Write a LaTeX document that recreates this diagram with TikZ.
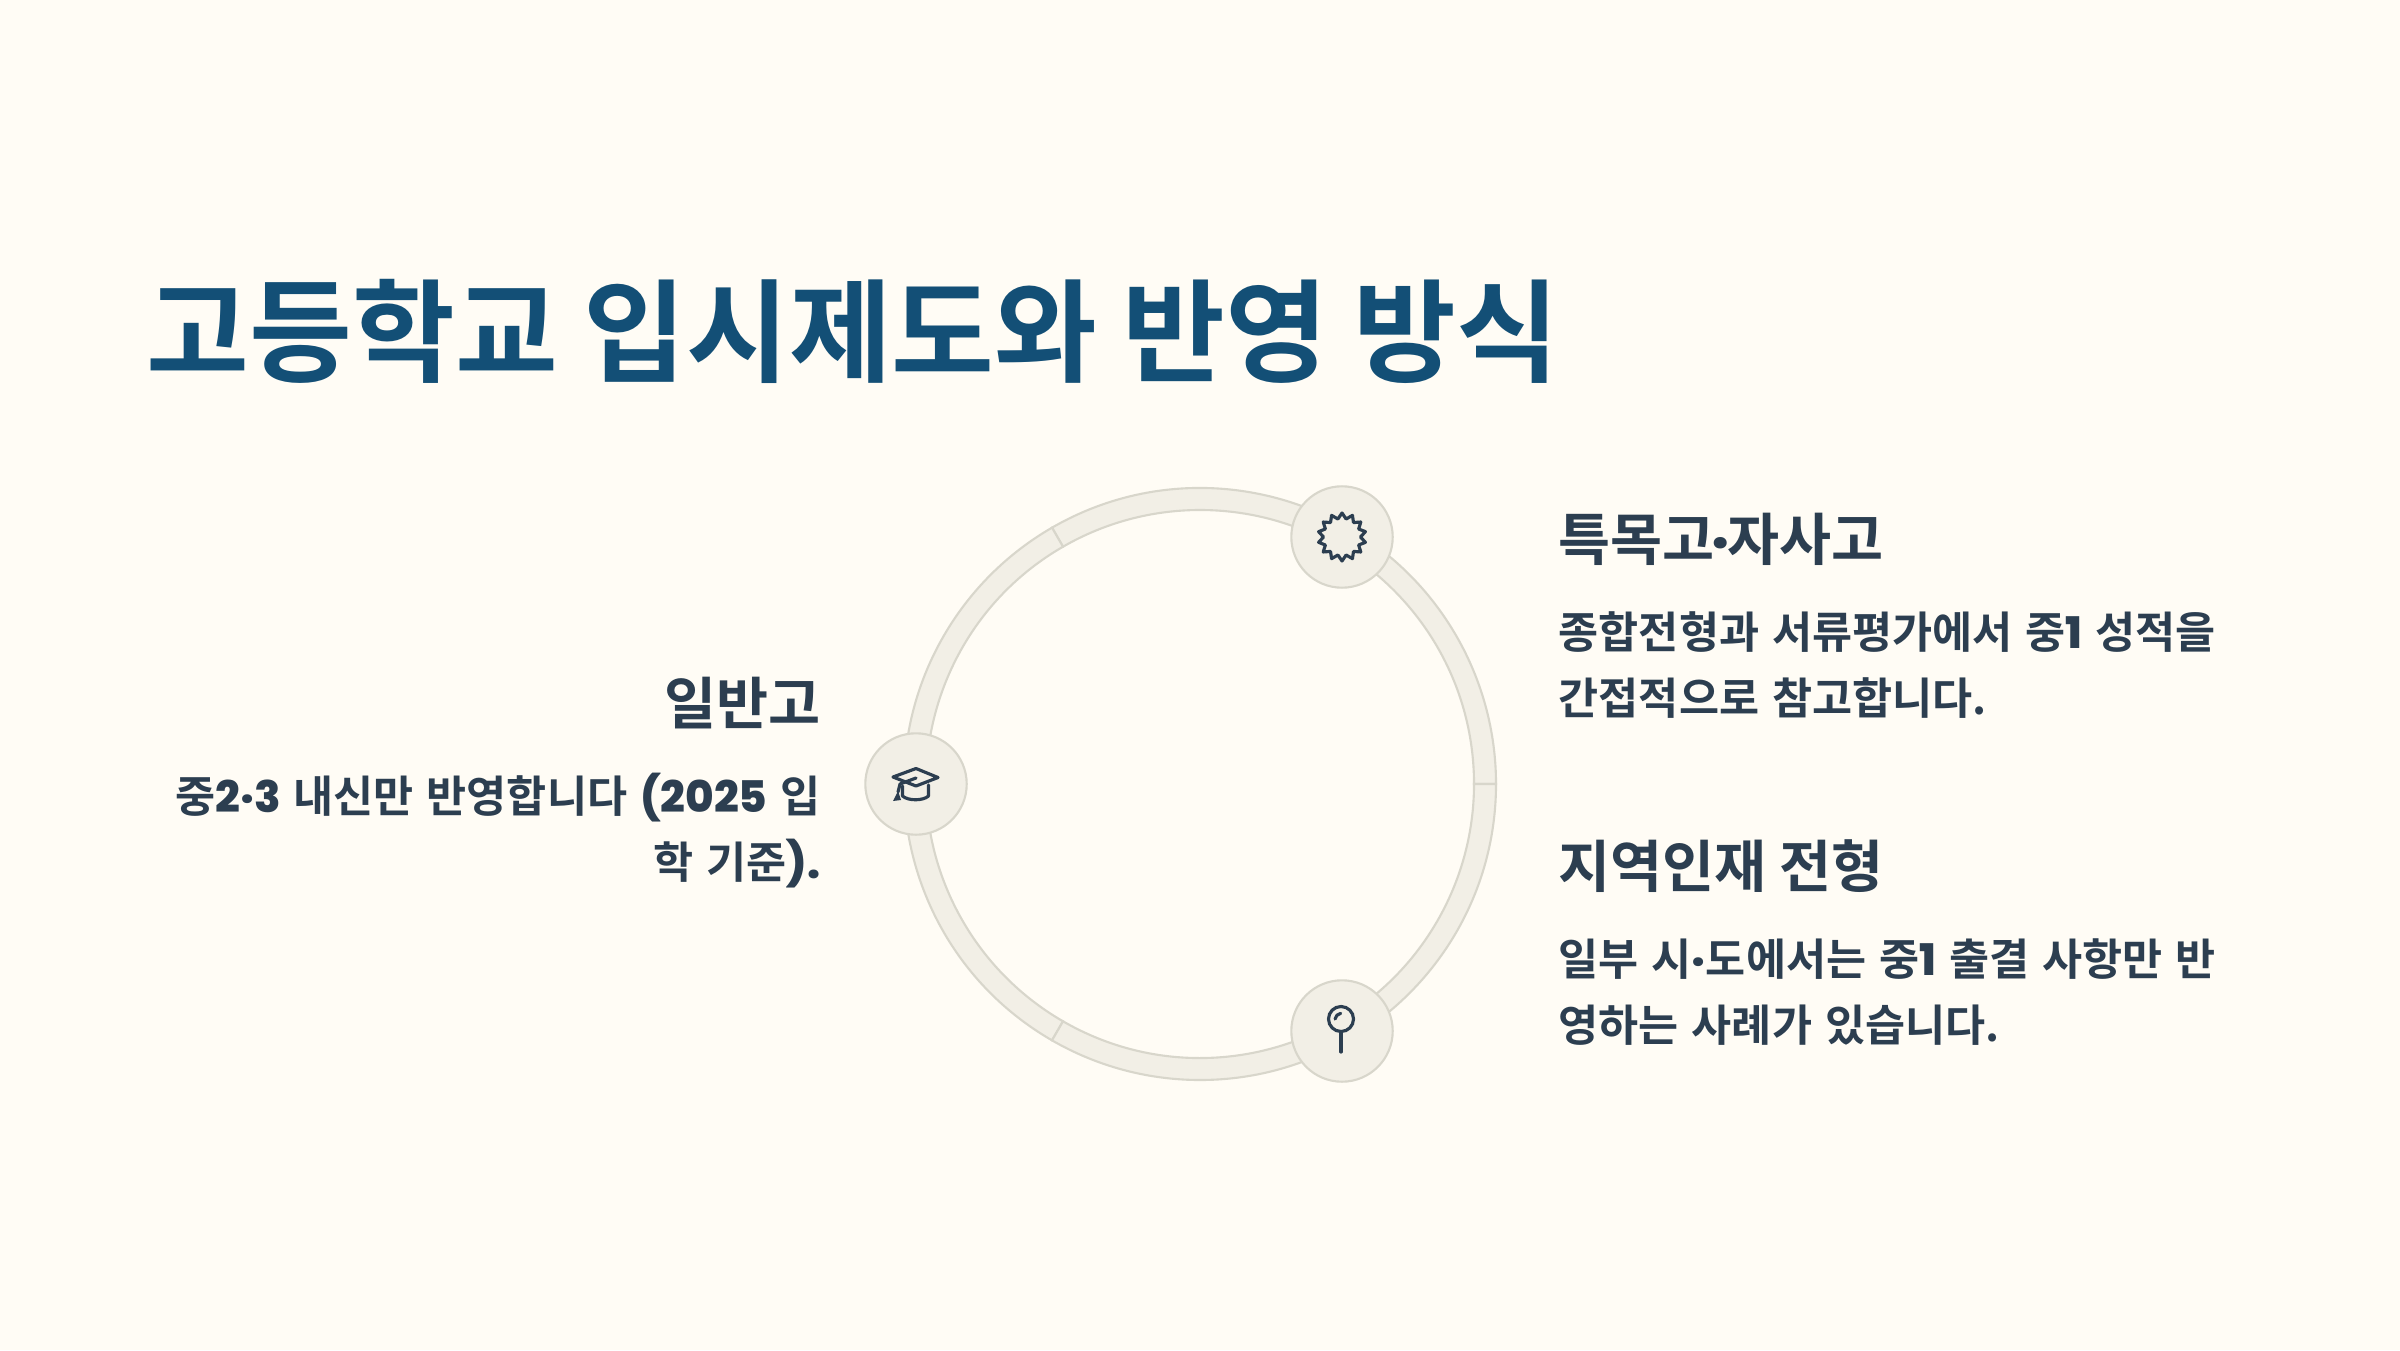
\documentclass[tikz,border=0pt]{standalone}
\usepackage{fontspec}
\setmainfont{Noto Sans CJK KR}[BoldFont={Noto Sans CJK KR Bold}]
\newfontfamily\heavyfont{Poppins}[BoldFont={Poppins ExtraBold}]
\newfontfamily\bodyfont{Noto Sans CJK KR}[BoldFont={Noto Sans CJK KR Bold},WordSpace=1.3]
\newcommand{\hv}[1]{{\heavyfont #1}}
\usetikzlibrary{shapes.geometric}
\definecolor{pagebg}{HTML}{FFFCF5}
\definecolor{titleblue}{HTML}{134F76}
\definecolor{textdark}{HTML}{2C3E50}
\definecolor{ringfill}{HTML}{F2EFE6}
\definecolor{ringline}{HTML}{D8D6CB}
\tikzset{
  titletext/.style={anchor=base west,inner sep=0pt,text=titleblue,font=\fontsize{31.8}{36}\selectfont\bfseries},
  headtext/.style={inner sep=0pt,text=textdark,font=\fontsize{16.1}{20}\selectfont\bfseries},
  bodytext/.style={inner sep=0pt,text=textdark,font=\bodyfont\fontsize{12.4}{14}\selectfont\bfseries},
  ringseg/.style={draw=ringline,fill=ringfill,line width=0.6pt},
  iconbase/.style={circle,draw=ringline,fill=ringfill,line width=0.6pt,minimum size=3.38cm*0.3,inner sep=0pt},
  iconline/.style={draw=textdark,line width=0.9pt,line join=round,line cap=round}
}
\begin{document}
\begin{tikzpicture}
\useasboundingbox (0,0) rectangle (24,13.5);
\fill[pagebg] (0,0) rectangle (24,13.5);
\node[titletext] (title) at (1.46,9.77) {고등학교 입시제도와 반영 방식};
% ring
\begin{scope}[shift={(12,5.66)}]
\foreach \a in {0,120,240}{
  \draw[ringseg] (\a:2.74) arc[start angle=\a,delta angle=120,radius=2.74]
    -- (\a+120:2.96) arc[start angle=\a+120,delta angle=-120,radius=2.96] -- cycle;
}
\end{scope}
\node[iconbase] (capicon) at (9.16,5.66) {};
\node[iconbase] (staricon) at (13.42,8.13) {};
\node[iconbase] (pinicon) at (13.42,3.19) {};
% cap
\begin{scope}[shift={(capicon.center)}]
\draw[iconline] (-0.23,0.07) -- (0,0.155) -- (0.22,0.065) -- (0,-0.02) -- cycle;
\draw[iconline] (-0.135,-0.02) -- (-0.135,-0.12) .. controls (-0.08,-0.17) and (0.07,-0.17) .. (0.125,-0.12) -- (0.125,-0.01);
\draw[iconline] (0,0.06) -- (-0.16,0) -- (-0.18,-0.08);
\fill[textdark] (-0.18,-0.07) -- (-0.23,-0.17) -- (-0.15,-0.16) -- cycle;
\end{scope}
% star
\node[star,star points=14,star point ratio=1.3,draw=textdark,line width=0.9pt,line join=round,minimum size=0.48cm,inner sep=0pt] (starmark) at (staricon.center) {};
% pin
\node[circle,draw=textdark,line width=0.9pt,minimum size=0.25cm,inner sep=0pt] (pinhead) at (13.41,3.31) {};
\coordinate (pinfoot) at (13.41,2.98);
\draw[iconline] (pinhead.south) -- (pinfoot);
\draw[iconline] ([shift={(-0.06,0.0)}]pinhead.center) arc[start angle=170,end angle=100,radius=0.07];
% right column
\node[headtext,anchor=base west] (headone) at (15.58,7.9) {특목고\kern-.03cm\hv{·}\kern-.03cm자사고};
\node[bodytext,anchor=base west] (bodyonea) at (15.58,7.02) {종합전형과 서류평가에서 중\hv{1} 성적을};
\node[bodytext,anchor=base west] (bodyoneb) at (15.58,6.36) {간접적으로 참고합니다.};
\node[headtext,anchor=base west] (headtwo) at (15.58,4.63) {지역인재 전형};
\node[bodytext,anchor=base west] (bodytwoa) at (15.58,3.75) {일부 시\hv{·}도에서는 중\hv{1} 출결 사항만 반};
\node[bodytext,anchor=base west] (bodytwob) at (15.58,3.09) {영하는 사례가 있습니다.};
% left column
\node[headtext,anchor=base east] (headthree) at (8.21,6.26) {일반고};
\node[bodytext,anchor=base east] (bodythreea) at (8.21,5.38) {중\hv{2·3} 내신만 반영합니다 \hv{(2025} 입};
\node[bodytext,anchor=base east] (bodythreeb) at (8.21,4.72) {학 기준\hv{).}};
\end{tikzpicture}
\end{document}
